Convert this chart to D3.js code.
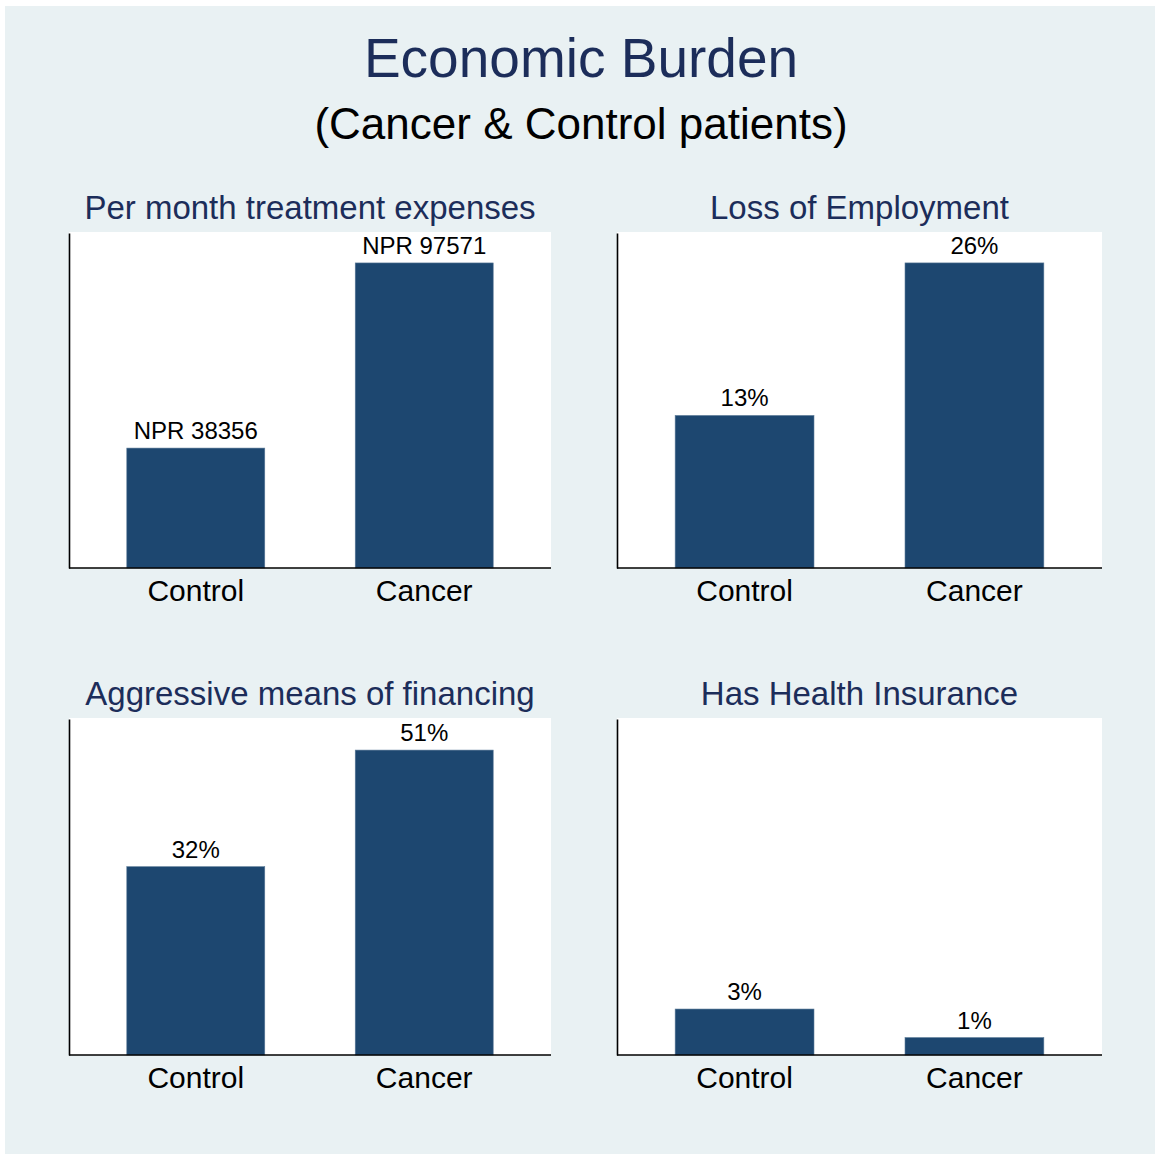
<!DOCTYPE html>
<html>
<head>
<meta charset="utf-8">
<script src="https://cdn.jsdelivr.net/npm/d3@7"></script>
<style>
  html, body { margin: 0; padding: 0; background: #ffffff; }
  svg { display: block; font-family: "Liberation Sans", Arial, sans-serif; }
</style>
</head>
<body>
<svg id="chart" width="1155" height="1154"></svg>
<script>
// ---- data ----
const categories = ["Control", "Cancer"];
const panelTitles = ["Per month treatment expenses", "Loss of Employment", "Aggressive means of financing", "Has Health Insurance"];
const expensesValues = [38356, 97571];
const expensesLabels = ["NPR 38356", "NPR 97571"];
const employmentValues = [13, 26];
const employmentLabels = ["13%", "26%"];
const financingValues = [31.5, 51];
const financingLabels = ["32%", "51%"];
const insuranceValues = [2.9, 1.1];
const insuranceLabels = ["3%", "1%"];
const axisMax = [107150, 28.55, 56.2, 21.2];

const mainTitle = "Economic Burden";
const subTitle = "(Cancer & Control patients)";

const panels = [
  { title: panelTitles[0], values: expensesValues, labels: expensesLabels, max: axisMax[0] },
  { title: panelTitles[1], values: employmentValues, labels: employmentLabels, max: axisMax[1] },
  { title: panelTitles[2], values: financingValues, labels: financingLabels, max: axisMax[2] },
  { title: panelTitles[3], values: insuranceValues, labels: insuranceLabels, max: axisMax[3] }
];

// ---- layout ----
const W = 1155, H = 1154;
const bg = "#e9f1f3";
const barColor = "#1d4770";
const titleColor = "#1c2d5a";
const boxes = [
  { x0: 69, x1: 551, y0: 233, y1: 568 },
  { x0: 617, x1: 1102, y0: 233, y1: 568 },
  { x0: 69, x1: 551, y0: 719, y1: 1055 },
  { x0: 617, x1: 1102, y0: 719, y1: 1055 }
];

const svg = d3.select("#chart");
svg.append("rect").attr("x", 5).attr("y", 6).attr("width", W - 5).attr("height", H - 6).attr("fill", bg);

svg.append("text").attr("x", 581).attr("y", 77).attr("text-anchor", "middle")
  .attr("font-size", 55).attr("fill", titleColor).text(mainTitle);
svg.append("text").attr("x", 581).attr("y", 139).attr("text-anchor", "middle")
  .attr("font-size", 44).attr("fill", "#000").text(subTitle);

panels.forEach((p, i) => {
  const b = boxes[i];
  const g = svg.append("g");
  g.append("rect").attr("x", b.x0).attr("y", b.y0 - 1).attr("width", b.x1 - b.x0).attr("height", b.y1 - b.y0 + 1).attr("fill", "#fff");

  const x = d3.scaleBand().domain(categories).range([b.x0, b.x1]).paddingInner(0.396).paddingOuter(0.253);
  const y = d3.scaleLinear().domain([0, p.max]).range([b.y1, b.y0]);

  g.selectAll("rect.bar").data(p.values).join("rect").attr("class", "bar")
    .attr("x", (d, j) => x(categories[j]))
    .attr("y", d => y(d))
    .attr("width", x.bandwidth())
    .attr("height", d => y(0) - y(d))
    .attr("fill", barColor)
    .attr("stroke", "#5b7a97").attr("stroke-width", 0.6);

  g.selectAll("text.lbl").data(p.labels).join("text").attr("class", "lbl")
    .attr("x", (d, j) => x(categories[j]) + x.bandwidth() / 2)
    .attr("y", (d, j) => y(p.values[j]) - 9)
    .attr("text-anchor", "middle").attr("font-size", 24).attr("fill", "#000")
    .text(d => d);

  // x axis
  const xAxis = g.append("g").attr("transform", `translate(0,${b.y1})`).call(d3.axisBottom(x).tickSize(0).tickPadding(11));
  xAxis.select(".domain").attr("d", `M${b.x0},0H${b.x1}`).attr("stroke", "#000").attr("stroke-width", 1.6);
  xAxis.selectAll("text").attr("font-size", 30).attr("fill", "#000").attr("font-family", "Liberation Sans, Arial, sans-serif").attr("dy", "0.72em");

  // y axis line (no ticks)
  const yAxis = g.append("g").attr("transform", `translate(${b.x0},0)`).call(d3.axisLeft(y).tickValues([]).tickSizeOuter(0));
  yAxis.select(".domain").attr("stroke", "#000").attr("stroke-width", 1.6);

  g.append("text").attr("x", (b.x0 + b.x1) / 2).attr("y", b.y0 - 14).attr("text-anchor", "middle")
    .attr("font-size", 33).attr("fill", titleColor).text(p.title);
});
</script>
</body>
</html>
